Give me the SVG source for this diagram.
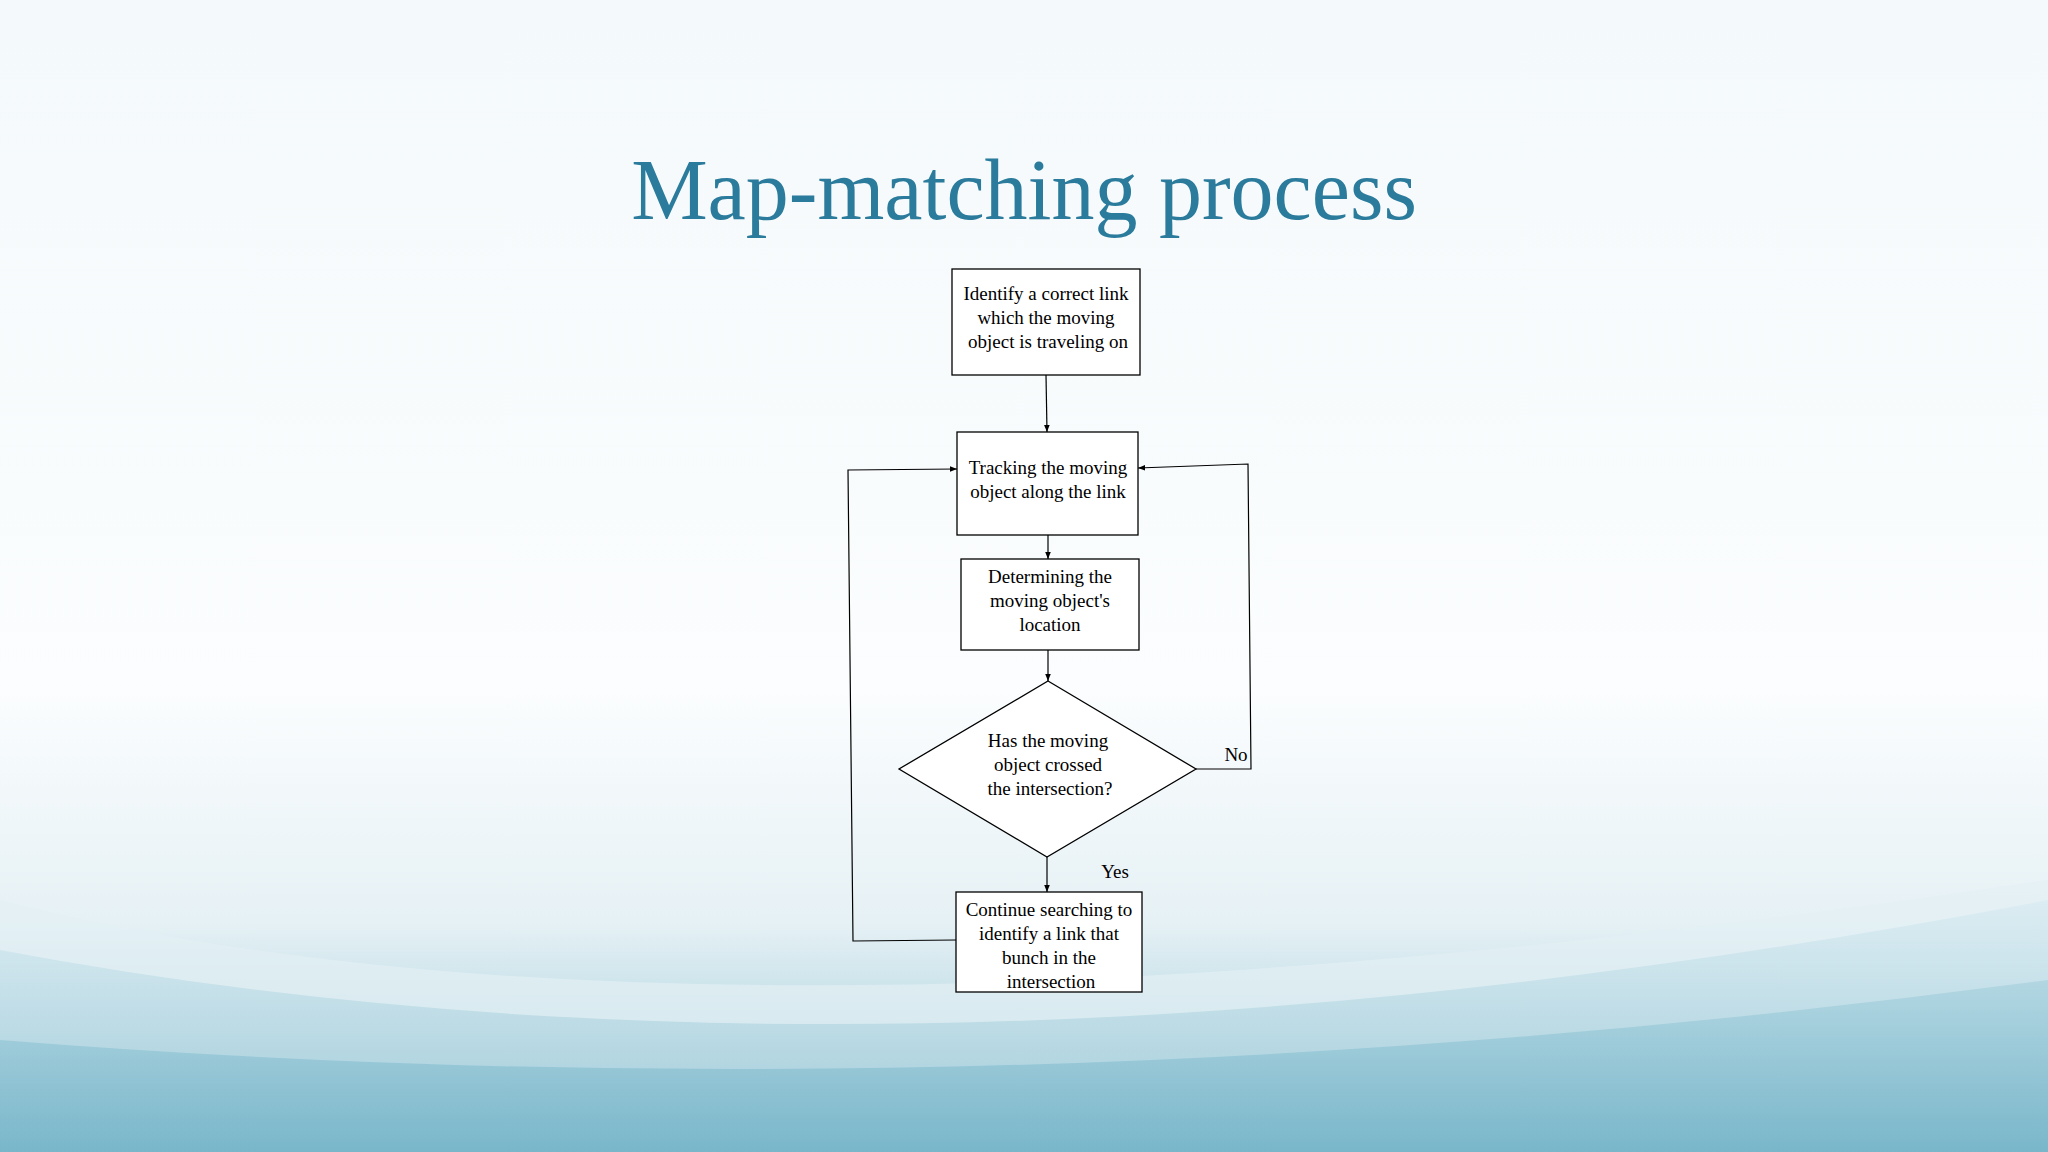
<svg xmlns="http://www.w3.org/2000/svg" width="2048" height="1152" viewBox="0 0 2048 1152">
<defs>
<linearGradient id="bg" x1="0" y1="0" x2="0" y2="1">
<stop offset="0" stop-color="#f4f9fb"/><stop offset="0.6" stop-color="#fbfdfe"/><stop offset="0.8" stop-color="#e6f1f5"/><stop offset="1" stop-color="#8fc4d4"/>
</linearGradient>
<linearGradient id="w1" x1="0" y1="0" x2="0" y2="1"><stop offset="0" stop-color="#d6eaf1"/><stop offset="1" stop-color="#7fb9cc"/></linearGradient>
<linearGradient id="w2" x1="0" y1="0" x2="0" y2="1"><stop offset="0" stop-color="#a9d2df"/><stop offset="1" stop-color="#6aaec4"/></linearGradient>
<marker id="ah" viewBox="0 0 10 10" refX="10" refY="5" markerWidth="6" markerHeight="6" orient="auto"><path d="M0,1 L10,5 L0,9 z" fill="#000"/></marker>
<style>
.box{fill:#fff;stroke:#000;stroke-width:1.3}
.t{font-family:"Liberation Serif",serif;font-size:19px;fill:#000;text-anchor:middle}
.c{fill:none;stroke:#000;stroke-width:1.2}
</style>
</defs>
<rect width="2048" height="1152" fill="url(#bg)"/>
<path d="M0,900 Q700,1080 2048,880 L2048,1152 L0,1152 z" fill="#e2eff4" opacity="0.7"/>
<path d="M0,950 Q900,1120 2048,900 L2048,1152 L0,1152 z" fill="url(#w1)" opacity="0.6"/>
<path d="M0,1040 Q1000,1120 2048,980 L2048,1152 L0,1152 z" fill="url(#w2)" opacity="0.7"/>
<text x="1024" y="219" font-family="Liberation Serif,serif" font-size="86" fill="#2b7b9c" text-anchor="middle">Map-matching process</text>
<g id="connectors">
<line class="c" x1="1046" y1="375" x2="1047" y2="432" marker-end="url(#ah)"/>
<line class="c" x1="1048" y1="535" x2="1048" y2="559" marker-end="url(#ah)"/>
<line class="c" x1="1048" y1="650" x2="1048" y2="681" marker-end="url(#ah)"/>
<line class="c" x1="1047" y1="857" x2="1047" y2="892" marker-end="url(#ah)"/>
<polyline class="c" points="1196,769 1251,769 1248,464 1138,468" marker-end="url(#ah)"/>
<polyline class="c" points="956,940 853,941 848,470 957,469" marker-end="url(#ah)"/>
<text x="1236" y="761" class="t" font-size="17">No</text>
<text x="1115" y="878" class="t" font-size="17">Yes</text>
</g>
<g id="n1"><rect class="box" x="952" y="269" width="188" height="106"/>
<text class="t" x="1046" y="300">Identify a correct link</text><text class="t" x="1046" y="324">which the moving</text><text class="t" x="1048" y="348">object is traveling on</text></g>
<g id="n2"><rect class="box" x="957" y="432" width="181" height="103"/>
<text class="t" x="1048" y="474">Tracking the moving</text><text class="t" x="1048" y="498">object along the link</text></g>
<g id="n3"><rect class="box" x="961" y="559" width="178" height="91"/>
<text class="t" x="1050" y="583">Determining the</text><text class="t" x="1050" y="607">moving object's</text><text class="t" x="1050" y="631">location</text></g>
<g id="n4"><polygon class="box" points="1048,681 1196,769 1047,857 899,769"/>
<text class="t" x="1048" y="747">Has the moving</text><text class="t" x="1048" y="771">object crossed</text><text class="t" x="1050" y="795">the intersection?</text></g>
<g id="n5"><rect class="box" x="956" y="892" width="186" height="100"/>
<text class="t" x="1049" y="916">Continue searching to</text><text class="t" x="1049" y="940">identify a link that</text><text class="t" x="1049" y="964">bunch in the</text><text class="t" x="1051" y="988">intersection</text></g>
</svg>
